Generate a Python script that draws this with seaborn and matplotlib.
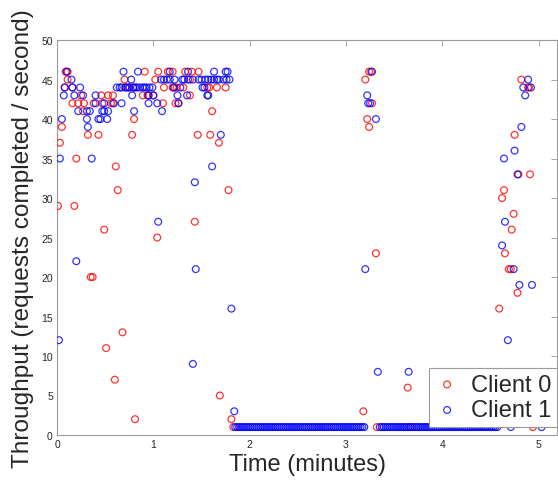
import matplotlib
matplotlib.use("Agg")
import matplotlib.pyplot as plt
import pandas as pd
import seaborn as sns

# ---- Data (time in minutes, throughput in requests/second) ----
c0_time = [0.01, 0.03, 0.05, 0.08, 0.09, 0.11, 0.11, 0.16, 0.16, 0.18, 0.20, 0.22, 0.25, 0.27,
           0.28, 0.32, 0.35, 0.37, 0.38, 0.43, 0.46, 0.47, 0.49, 0.51, 0.53, 0.56, 0.58, 0.58,
           0.60, 0.61, 0.63, 0.68, 0.70, 0.71, 0.75, 0.78, 0.79, 0.80, 0.81, 0.89, 0.91, 0.94,
           0.95, 1.00, 1.02, 1.04, 1.05, 1.10, 1.11, 1.15, 1.20, 1.20, 1.22, 1.23, 1.24, 1.26,
           1.31, 1.33, 1.38, 1.38, 1.40, 1.43, 1.46, 1.47, 1.56, 1.58, 1.59, 1.61, 1.66, 1.68,
           1.69, 1.75, 1.78, 1.81, 1.83,
           3.18, 3.20, 3.22, 3.24, 3.24, 3.26, 3.27, 3.31, 3.32, 3.64, 3.67,
           4.59, 4.62, 4.64, 4.65, 4.69, 4.71, 4.72, 4.74, 4.75, 4.78, 4.79, 4.82, 4.89, 4.90,
           4.91, 4.94]
c0_tput = [29, 37, 39, 44, 46, 46, 45, 44, 42, 29, 35, 42, 43, 41,
           42, 38, 20, 20, 42, 38, 43, 42, 26, 11, 43, 42, 43, 42,
           7, 34, 31, 13, 45, 44, 44, 38, 44, 40, 2, 43, 46, 43,
           43, 43, 45, 25, 46, 42, 44, 46, 46, 44, 44, 42, 44, 42,
           44, 46, 45, 43, 46, 27, 38, 46, 44, 44, 38, 41, 44, 37,
           5, 44, 31, 2, 1,
           3, 45, 40, 46, 39, 46, 42, 23, 1, 6, 1,
           16, 30, 31, 23, 21, 21, 26, 28, 38, 18, 33, 45, 44, 44,
           33, 1]

c1_time = [0.02, 0.03, 0.05, 0.07, 0.08, 0.10, 0.15, 0.16, 0.18, 0.20, 0.22, 0.24, 0.27, 0.31,
           0.31, 0.32, 0.34, 0.36, 0.40, 0.40, 0.43, 0.45, 0.47, 0.49, 0.49, 0.52, 0.53, 0.59,
           0.62, 0.65, 0.67, 0.67, 0.69, 0.71, 0.73, 0.75, 0.77, 0.78, 0.79, 0.80, 0.81, 0.83,
           0.84, 0.86, 0.89, 0.91, 0.93, 0.95, 0.95, 0.96, 0.99, 1.00, 1.04, 1.05, 1.08, 1.09,
           1.11, 1.14, 1.17, 1.17, 1.21, 1.22, 1.25, 1.26, 1.28, 1.30, 1.32, 1.35, 1.36, 1.36,
           1.41, 1.41, 1.43, 1.44, 1.47, 1.50, 1.51, 1.53, 1.54, 1.56, 1.57, 1.57, 1.60, 1.61,
           1.63, 1.63, 1.66, 1.68, 1.70, 1.73, 1.75, 1.76, 1.77, 1.79, 1.81, 1.84,
           3.20, 3.22, 3.23, 3.25, 3.27, 3.31, 3.33, 3.65,
           4.62, 4.64, 4.65, 4.68, 4.71, 4.74, 4.75, 4.78, 4.80, 4.82, 4.84, 4.86, 4.89, 4.92,
           4.93, 5.03]
c1_tput = [12, 35, 40, 43, 44, 46, 45, 44, 43, 22, 41, 44, 43, 41,
           40, 39, 41, 35, 43, 42, 40, 40, 41, 41, 42, 40, 41, 42,
           44, 44, 42, 44, 46, 44, 44, 44, 45, 43, 44, 41, 44, 44,
           46, 44, 44, 44, 44, 43, 42, 44, 44, 43, 42, 27, 45, 41,
           45, 45, 46, 45, 44, 45, 43, 42, 44, 45, 45, 43, 46, 45,
           45, 9, 32, 21, 45, 45, 44, 44, 45, 43, 45, 43, 45, 34,
           46, 45, 45, 45, 38, 45, 46, 45, 46, 45, 16, 3,
           21, 43, 42, 42, 46, 40, 8, 8,
           24, 35, 27, 12, 1, 21, 36, 33, 19, 39, 44, 43, 45, 44,
           19, 1]

# Client 1 idle stretches: one sample every ~second at 1 request/second
c1_idle_time = [1.85, 1.87, 1.89, 1.91, 1.93, 1.95, 1.97, 1.99, 2.01, 2.03, 2.05, 2.07, 2.09,
                2.11, 2.13, 2.15, 2.17, 2.19, 2.21, 2.23, 2.25, 2.27, 2.29, 2.31, 2.33, 2.35,
                2.37, 2.39, 2.41, 2.43, 2.45, 2.47, 2.49, 2.51, 2.53, 2.55, 2.57, 2.59, 2.61,
                2.63, 2.65, 2.67, 2.69, 2.71, 2.73, 2.75, 2.77, 2.79, 2.81, 2.83, 2.85, 2.87,
                2.89, 2.91, 2.93, 2.95, 2.97, 2.99, 3.01, 3.03, 3.05, 3.07, 3.09, 3.11, 3.13,
                3.15, 3.17, 3.19,
                3.35, 3.37, 3.39, 3.41, 3.43, 3.45, 3.47, 3.49, 3.51, 3.53, 3.55, 3.57, 3.59,
                3.61, 3.63, 3.65, 3.67, 3.69, 3.71, 3.73, 3.75, 3.77, 3.79, 3.81, 3.83, 3.85,
                3.87, 3.89, 3.91, 3.93, 3.95, 3.97, 3.99, 4.01, 4.03, 4.05, 4.07, 4.09, 4.11,
                4.13, 4.15, 4.17, 4.19, 4.21, 4.23, 4.25, 4.27, 4.29, 4.31, 4.33, 4.35, 4.37,
                4.39, 4.41, 4.43, 4.45, 4.47, 4.49, 4.51, 4.53, 4.55, 4.57]
c1_idle_tput = [1] * len(c1_idle_time)

labels = ["Client 0", "Client 1"]
x_ticks = [0, 1, 2, 3, 4, 5]
y_ticks = [0, 5, 10, 15, 20, 25, 30, 35, 40, 45, 50]

# ---- Style ----
sns.set_style("white")
plt.rcParams["font.family"] = ["Liberation Sans", "DejaVu Sans"]

df0 = pd.DataFrame({"time": c0_time, "tput": c0_tput})
df1 = pd.DataFrame({"time": c1_time + c1_idle_time, "tput": c1_tput + c1_idle_tput})

fig = plt.figure(figsize=(5.58, 4.81), dpi=100)
ax = fig.add_axes([0.1022, 0.0936, 0.896, 0.821])

sns.scatterplot(data=df0, x="time", y="tput", ax=ax, marker="o", s=24,
                color="#ff0000", facecolor="none", edgecolor="#ff0000",
                linewidth=0.9, alpha=0.8, label=labels[0], zorder=3)
sns.scatterplot(data=df1, x="time", y="tput", ax=ax, marker="o", s=24,
                color="#0000ff", facecolor="none", edgecolor="#0000ff",
                linewidth=0.9, alpha=0.8, label=labels[1], zorder=4)

ax.set_xlim(0, 5.19)
ax.set_ylim(0, 50)
ax.set_xticks(x_ticks)
ax.set_yticks(y_ticks)
ax.set_xticklabels([str(v) for v in x_ticks])
ax.set_yticklabels([str(v) for v in y_ticks])

for sp in ax.spines.values():
    sp.set_visible(True)
    sp.set_color("#9a9a9a")
    sp.set_linewidth(0.8)

ax.tick_params(direction="in", length=4, width=0.6, color="#9a9a9a",
               labelsize=7.5, labelcolor="#262626", top=True, right=True, pad=3)

ax.set_xlabel("Time (minutes)", fontsize=17, color="#262626", labelpad=3)
ax.set_ylabel("Throughput (requests completed / second)", fontsize=17.6,
              color="#262626", labelpad=5)

leg = ax.legend(loc="lower right", bbox_to_anchor=(1.0, 0.02), fontsize=17,
                frameon=True, fancybox=False, framealpha=1, edgecolor="#9a9a9a",
                handlelength=1.0, handletextpad=0.5, borderpad=0.25,
                labelspacing=0.15, borderaxespad=0)
leg.get_frame().set_linewidth(0.8)
leg.set_zorder(10)

fig.savefig("out.png", dpi=100)
